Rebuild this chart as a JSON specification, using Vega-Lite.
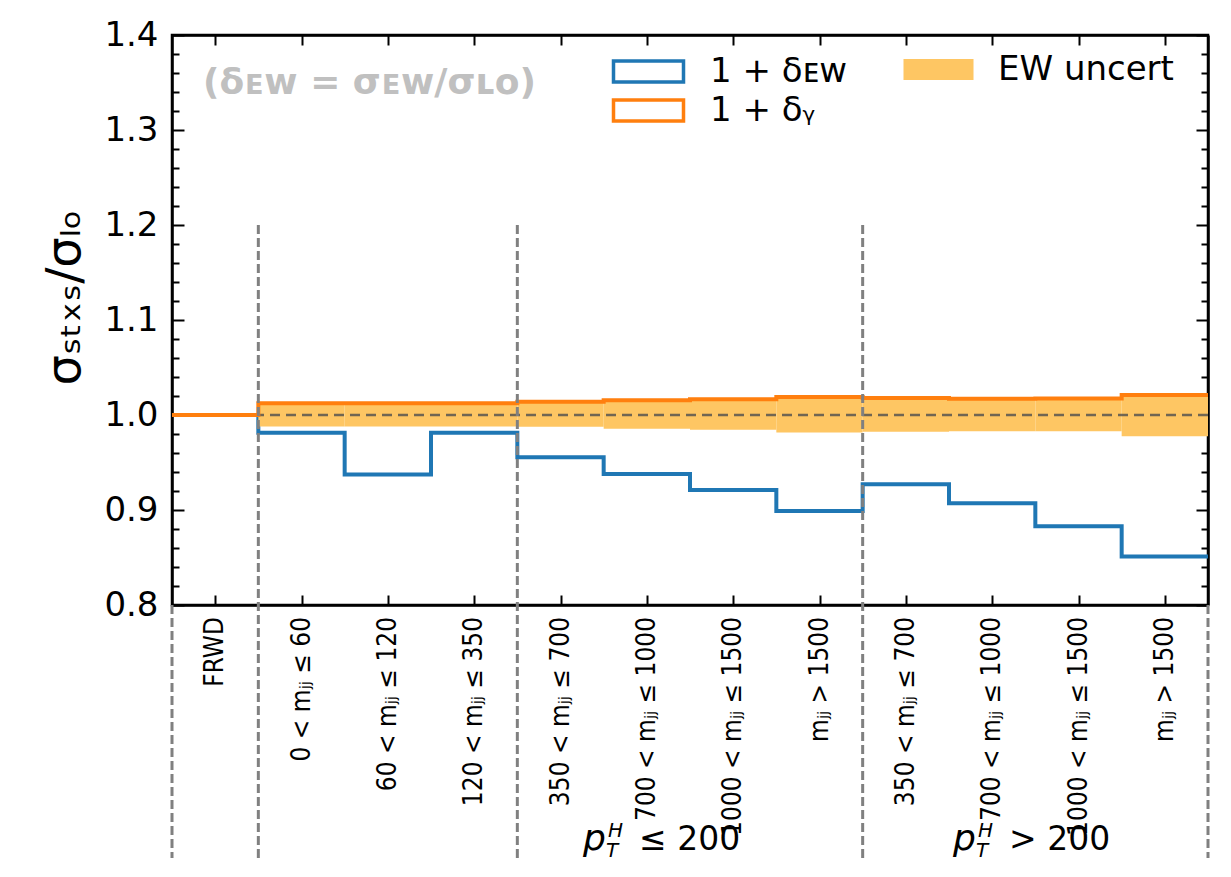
{
  "$schema": "https://vega.github.io/schema/vega-lite/v6.json",
  "width": 1036,
  "height": 570,
  "autosize": {"type": "none"},
  "padding": {"left": 172, "top": 35, "right": 23, "bottom": 272},
  "background": "white",
  "config": {
    "font": "DejaVu Sans",
    "view": {"stroke": "black", "strokeWidth": 2.5},
    "axis": {"zindex": 1, "grid": false, "domainColor": "black", "domainWidth": 2.5, "tickColor": "black", "tickWidth": 2, "labelColor": "black", "titleColor": "black"},
    "legend": {"labelFontSize": 34, "labelColor": "black", "labelLimit": 400, "padding": 0, "rowPadding": 2,
      "symbolType": "M-2,-0.6L2,-0.6L2,0.6L-2,0.6Z", "symbolSize": 1225, "labelOffset": 42}
  },
  "datasets": {
    "ew": [
      {"s": "1 + δᴇᴡ", "x": 0, "y": 1.0},
      {"s": "1 + δᴇᴡ", "x": 1, "y": 0.9814},
      {"s": "1 + δᴇᴡ", "x": 2, "y": 0.9375},
      {"s": "1 + δᴇᴡ", "x": 3, "y": 0.9814},
      {"s": "1 + δᴇᴡ", "x": 4, "y": 0.9555},
      {"s": "1 + δᴇᴡ", "x": 5, "y": 0.938},
      {"s": "1 + δᴇᴡ", "x": 6, "y": 0.921},
      {"s": "1 + δᴇᴡ", "x": 7, "y": 0.899},
      {"s": "1 + δᴇᴡ", "x": 8, "y": 0.927},
      {"s": "1 + δᴇᴡ", "x": 9, "y": 0.907},
      {"s": "1 + δᴇᴡ", "x": 10, "y": 0.883},
      {"s": "1 + δᴇᴡ", "x": 11, "y": 0.851},
      {"s": "1 + δᴇᴡ", "x": 12, "y": 0.851}
    ],
    "gamma": [
      {"s": "1 + δᵧ", "x": 0, "y": 1.0},
      {"s": "1 + δᵧ", "x": 1, "y": 1.0123},
      {"s": "1 + δᵧ", "x": 2, "y": 1.0123},
      {"s": "1 + δᵧ", "x": 3, "y": 1.0123},
      {"s": "1 + δᵧ", "x": 4, "y": 1.014},
      {"s": "1 + δᵧ", "x": 5, "y": 1.0155},
      {"s": "1 + δᵧ", "x": 6, "y": 1.0165},
      {"s": "1 + δᵧ", "x": 7, "y": 1.019},
      {"s": "1 + δᵧ", "x": 8, "y": 1.018},
      {"s": "1 + δᵧ", "x": 9, "y": 1.017},
      {"s": "1 + δᵧ", "x": 10, "y": 1.0175},
      {"s": "1 + δᵧ", "x": 11, "y": 1.021},
      {"s": "1 + δᵧ", "x": 12, "y": 1.021}
    ],
    "band": [
      {"s": "EW uncert", "x0": 1, "x1": 2, "lo": 0.9878, "hi": 1.0123},
      {"s": "EW uncert", "x0": 2, "x1": 3, "lo": 0.9878, "hi": 1.0123},
      {"s": "EW uncert", "x0": 3, "x1": 4, "lo": 0.9878, "hi": 1.0123},
      {"s": "EW uncert", "x0": 4, "x1": 5, "lo": 0.9877, "hi": 1.014},
      {"s": "EW uncert", "x0": 5, "x1": 6, "lo": 0.9854, "hi": 1.0155},
      {"s": "EW uncert", "x0": 6, "x1": 7, "lo": 0.9846, "hi": 1.0165},
      {"s": "EW uncert", "x0": 7, "x1": 8, "lo": 0.9815, "hi": 1.019},
      {"s": "EW uncert", "x0": 8, "x1": 9, "lo": 0.9825, "hi": 1.018},
      {"s": "EW uncert", "x0": 9, "x1": 10, "lo": 0.983, "hi": 1.017},
      {"s": "EW uncert", "x0": 10, "x1": 11, "lo": 0.983, "hi": 1.0175},
      {"s": "EW uncert", "x0": 11, "x1": 12, "lo": 0.9776, "hi": 1.021}
    ],
    "ref": [{"y": 1.0}],
    "inner": [{"x": 1}, {"x": 4}, {"x": 8}],
    "outer": [{"x": 0}, {"x": 12}],
    "bins": [
      {"c": 0.5, "label": "FRWD"},
      {"c": 1.5, "label": "0 < mⱼⱼ ≤ 60"},
      {"c": 2.5, "label": "60 < mⱼⱼ ≤ 120"},
      {"c": 3.5, "label": "120 < mⱼⱼ ≤ 350"},
      {"c": 4.5, "label": "350 < mⱼⱼ ≤ 700"},
      {"c": 5.5, "label": "700 < mⱼⱼ ≤ 1000"},
      {"c": 6.5, "label": "1000 < mⱼⱼ ≤ 1500"},
      {"c": 7.5, "label": "mⱼⱼ > 1500"},
      {"c": 8.5, "label": "350 < mⱼⱼ ≤ 700"},
      {"c": 9.5, "label": "700 < mⱼⱼ ≤ 1000"},
      {"c": 10.5, "label": "1000 < mⱼⱼ ≤ 1500"},
      {"c": 11.5, "label": "mⱼⱼ > 1500"}
    ],
    "pt": [
      {"x": 4.761, "rel": "≤ 200"},
      {"x": 9.047, "rel": "> 200"}
    ],
    "note": [{"t": "(δᴇᴡ = σᴇᴡ/σʟᴏ)"}]
  },
  "resolve": {"axis": {"x": "independent", "y": "independent"}},
  "layer": [
    {
      "data": {"name": "ew"},
      "mark": {"type": "line", "interpolate": "step-after", "strokeWidth": 4},
      "encoding": {
        "x": {"field": "x", "type": "quantitative", "scale": {"domain": [0, 12], "nice": false, "zero": false},
          "axis": {"orient": "bottom", "values": [0.5, 1.5, 2.5, 3.5, 4.5, 5.5, 6.5, 7.5, 8.5, 9.5, 10.5, 11.5], "labels": false, "tickSize": -10, "title": null}},
        "y": {"field": "y", "type": "quantitative", "scale": {"domain": [0.8, 1.4], "nice": false, "zero": false},
          "axis": {"orient": "left", "values": [0.8, 0.9, 1.0, 1.1, 1.2, 1.3, 1.4], "format": ".1f", "tickSize": -12, "labelFontSize": 34, "labelPadding": 26, "title": "σₛₜₓₛ/σₗₒ", "titleFontSize": 48, "titleFontWeight": "normal", "titlePadding": 14, "titleAnchor": "middle", "titleY": 262}},
        "stroke": {"field": "s", "type": "nominal",
          "scale": {"domain": ["1 + δᴇᴡ", "1 + δᵧ"], "range": ["#1f77b4", "#ff7f0e"]},
          "legend": {"title": null, "orient": "none", "legendX": 457, "legendY": 17, "direction": "vertical", "symbolStrokeWidth": 3.5, "symbolFillColor": "transparent"}}
      }
    },
    {
      "data": {"name": "band"},
      "mark": {"type": "rect"},
      "encoding": {
        "x": {"field": "x0", "type": "quantitative", "scale": {"domain": [0, 12], "nice": false, "zero": false},
          "axis": {"orient": "top", "values": [0.5, 1.5, 2.5, 3.5, 4.5, 5.5, 6.5, 7.5, 8.5, 9.5, 10.5, 11.5], "labels": false, "tickSize": -10, "title": null}},
        "x2": {"field": "x1"},
        "y": {"field": "lo", "type": "quantitative", "scale": {"domain": [0.8, 1.4], "nice": false, "zero": false},
          "axis": {"orient": "right", "values": [0.8, 0.9, 1.0, 1.1, 1.2, 1.3, 1.4], "labels": false, "tickSize": -12, "title": null}},
        "y2": {"field": "hi"},
        "fill": {"field": "s", "type": "nominal",
          "scale": {"domain": ["EW uncert"], "range": ["#fec663"]},
          "legend": {"title": null, "orient": "none", "legendX": 749, "legendY": 17, "symbolStrokeWidth": 0}}
      }
    },
    {
      "data": {"name": "ref"},
      "mark": {"type": "rule", "strokeDash": [10, 6], "color": "#4d4d4d", "opacity": 0.8, "strokeWidth": 2.5},
      "encoding": {
        "y": {"field": "y", "type": "quantitative", "scale": {"domain": [0.8, 1.4], "nice": false, "zero": false},
          "axis": {"orient": "left", "values": [0.82, 0.84, 0.86, 0.88, 0.92, 0.94, 0.96, 0.98, 1.02, 1.04, 1.06, 1.08, 1.12, 1.14, 1.16, 1.18, 1.22, 1.24, 1.26, 1.28, 1.32, 1.34, 1.36, 1.38], "labels": false, "domain": false, "tickSize": -7, "title": null}}
      }
    },
    {
      "data": {"name": "gamma"},
      "mark": {"type": "line", "interpolate": "step-after", "strokeWidth": 4},
      "encoding": {
        "x": {"field": "x", "type": "quantitative", "scale": {"domain": [0, 12], "nice": false, "zero": false}, "axis": null},
        "y": {"field": "y", "type": "quantitative", "scale": {"domain": [0.8, 1.4], "nice": false, "zero": false},
          "axis": {"orient": "right", "values": [0.82, 0.84, 0.86, 0.88, 0.92, 0.94, 0.96, 0.98, 1.02, 1.04, 1.06, 1.08, 1.12, 1.14, 1.16, 1.18, 1.22, 1.24, 1.26, 1.28, 1.32, 1.34, 1.36, 1.38], "labels": false, "domain": false, "tickSize": -7, "title": null}},
        "stroke": {"field": "s", "type": "nominal", "scale": {"domain": ["1 + δᴇᴡ", "1 + δᵧ"], "range": ["#1f77b4", "#ff7f0e"]}}
      }
    },
    {
      "data": {"name": "inner"},
      "mark": {"type": "rule", "strokeDash": [9, 4], "color": "#808080", "strokeWidth": 3},
      "encoding": {
        "x": {"field": "x", "type": "quantitative", "scale": {"domain": [0, 12], "nice": false, "zero": false}, "axis": null},
        "y": {"datum": 1.2, "type": "quantitative", "scale": {"domain": [0.8, 1.4], "nice": false, "zero": false}, "axis": null},
        "y2": {"datum": 0.5337}
      }
    },
    {
      "data": {"name": "outer"},
      "mark": {"type": "rule", "strokeDash": [9, 4], "color": "#808080", "strokeWidth": 3},
      "encoding": {
        "x": {"field": "x", "type": "quantitative", "scale": {"domain": [0, 12], "nice": false, "zero": false}, "axis": null},
        "y": {"datum": 0.8, "type": "quantitative", "scale": {"domain": [0.8, 1.4], "nice": false, "zero": false}, "axis": null},
        "y2": {"datum": 0.5337}
      }
    },
    {
      "data": {"name": "bins"},
      "mark": {"type": "text", "angle": 270, "align": "right", "baseline": "middle", "font": "DejaVu Sans Condensed", "fontSize": 26, "color": "black"},
      "encoding": {
        "x": {"field": "c", "type": "quantitative", "scale": {"domain": [0, 12], "nice": false, "zero": false}, "axis": null},
        "y": {"datum": 0.7874, "type": "quantitative", "scale": {"domain": [0.8, 1.4], "nice": false, "zero": false}, "axis": null},
        "text": {"field": "label"}
      }
    },
    {
      "data": {"name": "pt"},
      "encoding": {
        "x": {"field": "x", "type": "quantitative", "scale": {"domain": [0, 12], "nice": false, "zero": false}, "axis": null},
        "y": {"datum": 0.542, "type": "quantitative", "scale": {"domain": [0.8, 1.4], "nice": false, "zero": false}, "axis": null}
      },
      "layer": [
        {"mark": {"type": "text", "text": "p", "fontStyle": "italic", "fontSize": 36, "align": "left", "baseline": "alphabetic", "color": "black"}},
        {"mark": {"type": "text", "text": "H", "fontStyle": "italic", "fontSize": 20, "align": "left", "baseline": "alphabetic", "dx": 25, "dy": -13, "color": "black"}},
        {"mark": {"type": "text", "text": "T", "fontStyle": "italic", "fontSize": 20, "align": "left", "baseline": "alphabetic", "dx": 23, "dy": 7, "color": "black"}},
        {"mark": {"type": "text", "fontSize": 33, "align": "left", "baseline": "alphabetic", "dx": 56, "color": "black"}, "encoding": {"text": {"field": "rel"}}}
      ]
    },
    {
      "data": {"name": "note"},
      "mark": {"type": "text", "align": "left", "baseline": "middle", "fontWeight": "bold", "fontSize": 36, "color": "#c0c0c0"},
      "encoding": {
        "x": {"datum": 0.36, "type": "quantitative", "scale": {"domain": [0, 12], "nice": false, "zero": false}, "axis": null},
        "y": {"datum": 1.3495, "type": "quantitative", "scale": {"domain": [0.8, 1.4], "nice": false, "zero": false}, "axis": null},
        "text": {"field": "t"}
      }
    }
  ]
}
